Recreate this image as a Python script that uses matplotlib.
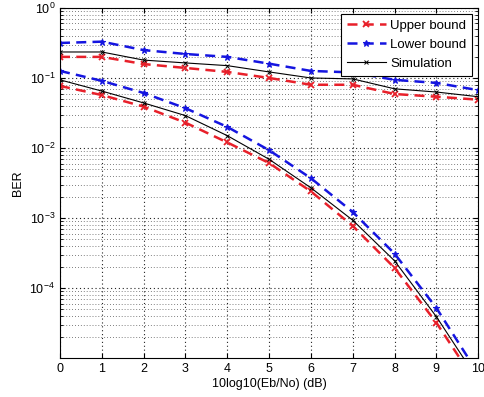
import matplotlib
matplotlib.use("Agg")
import matplotlib.pyplot as plt
import numpy as np

plt.rcParams['font.family'] = ['Liberation Sans', 'DejaVu Sans']

snr_db = [0, 1, 2, 3, 4, 5, 6, 7, 8, 9, 10]

# upper group of curves
upper_a = [0.20, 0.20, 0.158, 0.139, 0.122, 0.10, 0.080, 0.080, 0.059, 0.054, 0.049]
lower_a = [0.316, 0.33, 0.25, 0.22, 0.20, 0.16, 0.126, 0.12, 0.094, 0.085, 0.067]
sim_a = [0.235, 0.235, 0.18, 0.164, 0.15, 0.122, 0.10, 0.097, 0.070, 0.063, 0.054]

# lower group of curves
upper_b = [0.077, 0.057, 0.039, 0.023, 0.012, 0.0061, 0.0024, 0.00077, 0.000194, 3.2e-5, 4.0e-6]
lower_b = [0.126, 0.091, 0.061, 0.037, 0.020, 0.0093, 0.0037, 0.00122, 0.00031, 5.2e-5, 6.0e-6]
sim_b = [0.094, 0.065, 0.044, 0.029, 0.015, 0.0069, 0.0027, 0.00093, 0.000245, 3.9e-5, 4.8e-6]

xtick_labels = ['0', '1', '2', '3', '4', '5', '6', '7', '8', '9', '10']

fig = plt.figure(figsize=(4.84, 3.97), dpi=100)
ax = fig.add_axes([0.124, 0.098, 0.864, 0.882])

red = '#e8202a'
blue = '#1515e0'
dash = (0, (4, 2.5))

ax.semilogy(snr_db, upper_a, color=red, ls=dash, lw=1.8, marker='x', ms=4, mew=1.3, label='Upper bound')
ax.semilogy(snr_db, lower_a, color=blue, ls=dash, lw=1.8, marker='*', ms=5, mew=0.8, label='Lower bound')
ax.semilogy(snr_db, sim_a, color='black', ls='-', lw=0.8, marker='x', ms=3.5, mew=0.7, label='Simulation')
ax.semilogy(snr_db, upper_b, color=red, ls=dash, lw=1.8, marker='x', ms=4, mew=1.3)
ax.semilogy(snr_db, lower_b, color=blue, ls=dash, lw=1.8, marker='*', ms=5, mew=0.8)
ax.semilogy(snr_db, sim_b, color='black', ls='-', lw=0.8, marker='x', ms=3.5, mew=0.7)

ax.set_xlim(0, 10)
ax.set_ylim(1e-5, 1)
ax.set_xticks(snr_db)
ax.set_xticklabels(xtick_labels)
ax.set_yticks([1e-4, 1e-3, 1e-2, 1e-1, 1])
ax.grid(True, which='major', ls=(0, (1, 2.5)), color='#222222', lw=0.8)
ax.grid(True, which='minor', axis='y', ls=(0, (1, 2.5)), color='#555555', lw=0.6)
ax.tick_params(which='both', direction='in', top=True, right=True, labelsize=9)
ax.set_xlabel('10log10(Eb/No) (dB)', fontsize=9, labelpad=2)
ax.set_ylabel('BER', fontsize=9, labelpad=4)

leg = ax.legend(loc='upper right', fontsize=9.5, fancybox=False, framealpha=1,
                edgecolor='black', borderaxespad=0.45, handlelength=3.0,
                borderpad=0.45, labelspacing=0.5, handletextpad=0.3)
leg.get_frame().set_linewidth(0.8)

fig.savefig('out.png', dpi=100)
